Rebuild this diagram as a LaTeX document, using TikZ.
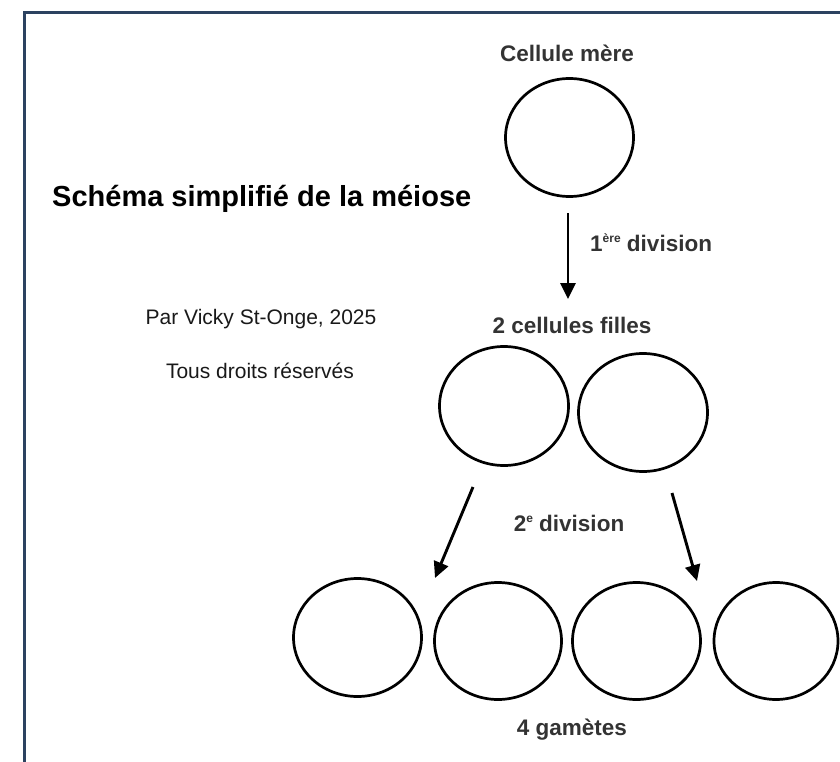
\documentclass[tikz,border=0pt]{standalone}
\usepackage{fontspec}
\setmainfont{Liberation Sans}
\usetikzlibrary{shapes.geometric,arrows.meta}
\definecolor{framecol}{HTML}{2C4260}
\definecolor{labelcol}{HTML}{333333}
\newcommand{\supsmall}[1]{\raisebox{0.75ex}{\fontsize{12}{13}\selectfont #1}}
\tikzset{
  cell/.style={draw=black, line width=2.7pt, ellipse, inner sep=0pt},
  lbl/.style={anchor=base, text=labelcol, font=\fontsize{22.5}{27}\selectfont\bfseries, inner sep=0pt},
  note/.style={anchor=base, text=black!90, font=\fontsize{21}{25}\selectfont, inner sep=0pt},
  arr/.style={line width=2.9pt, -{Triangle[length=16pt,width=15pt]}}
}
\begin{document}
\begin{tikzpicture}[x=1pt,y=-1pt]
\useasboundingbox (0,0) rectangle (840,762);
% frame
\draw[framecol, line width=2.8pt] (24.6,762) -- (24.6,12.4) -- (840,12.4);
% title and notes
\node[anchor=base west, inner sep=0pt, font=\fontsize{29}{34}\selectfont\bfseries] (title) at (52,206.5) {Schéma simplifié de la méiose};
\node[note] (auth) at (261,324) {Par Vicky St-Onge, 2025};
\node[note] (rights) at (260,378) {Tous droits réservés};
% mother cell
\node[lbl] (lm) at (567,61.5) {Cellule mère};
\node[cell, minimum width=128pt, minimum height=118pt] (mother) at (569.5,137.5) {};
% first division
\coordinate (a1s) at (568,213);
\coordinate (a1e) at (568,299);
\draw[arr] (a1s) -- (a1e);
\node[lbl, anchor=base west] (div1) at (590,251.5) {1\supsmall{ère} division};
% daughter cells
\node[lbl] (ld) at (572,333) {2 cellules filles};
\node[cell, minimum width=129pt, minimum height=119pt] (d1) at (504,406) {};
\node[cell, minimum width=129pt, minimum height=118pt] (d2) at (643,412.5) {};
% second division
\coordinate (a2s) at (473,487);
\coordinate (a2e) at (435,578);
\coordinate (a3s) at (672,493);
\coordinate (a3e) at (697,581);
\draw[arr] (a2s) -- (a2e);
\draw[arr] (a3s) -- (a3e);
\node[lbl] (div2) at (569,531) {2\supsmall{e} division};
% gametes
\node[cell, minimum width=128pt, minimum height=118pt] (g1) at (357.5,637.5) {};
\node[cell, minimum width=127pt, minimum height=117pt] (g2) at (498,641) {};
\node[cell, minimum width=128pt, minimum height=117pt] (g3) at (636.5,641) {};
\node[cell, minimum width=124pt, minimum height=117pt] (g4) at (776,641) {};
\node[lbl] (lg) at (572,735) {4 gamètes};
\end{tikzpicture}
\end{document}
